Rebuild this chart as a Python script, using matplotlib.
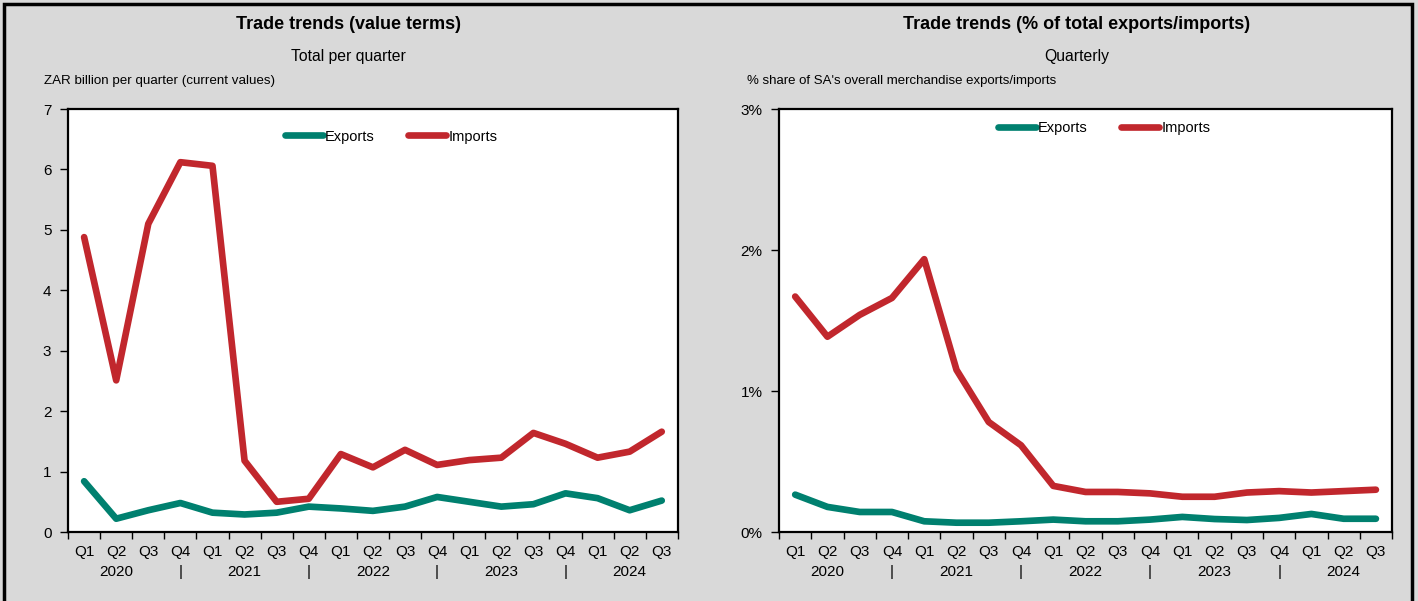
import matplotlib
matplotlib.use("Agg")
import matplotlib.pyplot as plt
from matplotlib.patches import Rectangle
from matplotlib.ticker import FuncFormatter, MultipleLocator

plt.rcParams["font.family"] = ["Liberation Sans Narrow", "Liberation Sans", "DejaVu Sans"]

quarters = ["Q1", "Q2", "Q3", "Q4"] * 4 + ["Q1", "Q2", "Q3"]
years = ["2020", "2021", "2022", "2023", "2024"]

# ZAR billion per quarter
exports_value = [0.84, 0.22, 0.36, 0.48, 0.32, 0.29, 0.32, 0.42, 0.39, 0.35,
                 0.42, 0.58, 0.50, 0.42, 0.46, 0.64, 0.56, 0.36, 0.52]
imports_value = [4.88, 2.51, 5.10, 6.12, 6.06, 1.18, 0.50, 0.55, 1.29, 1.07,
                 1.36, 1.11, 1.19, 1.23, 1.64, 1.46, 1.23, 1.33, 1.66]

# % share of SA's overall merchandise exports/imports
exports_share = [0.265, 0.178, 0.142, 0.142, 0.076, 0.066, 0.066, 0.076, 0.088, 0.076,
                 0.076, 0.088, 0.107, 0.092, 0.085, 0.100, 0.128, 0.094, 0.094]
imports_share = [1.67, 1.385, 1.54, 1.66, 1.935, 1.15, 0.78, 0.615, 0.327, 0.284,
                 0.284, 0.274, 0.250, 0.250, 0.280, 0.290, 0.280, 0.290, 0.300]

TEAL = "#00806f"
RED = "#c1272d"
BG = "#d9d9d9"


def x_labels():
    labels = []
    for i, q in enumerate(quarters):
        if q == "Q2":
            second = years[i // 4]
        elif q == "Q4":
            second = "|"
        else:
            second = ""
        labels.append(f"{q}\n{second}")
    return labels


def draw_panel(ax, exp, imp, ymax, fmt, legend_anchor):
    x = list(range(len(quarters)))
    ax.plot(x, exp, color=TEAL, lw=4.8, solid_capstyle="round",
            solid_joinstyle="round", label="Exports")
    ax.plot(x, imp, color=RED, lw=4.8, solid_capstyle="round",
            solid_joinstyle="round", label="Imports")
    ax.set_xlim(-0.5, len(quarters) - 0.5)
    ax.set_ylim(0, ymax)
    ax.set_facecolor("white")
    for s in ax.spines.values():
        s.set_linewidth(1.6)
        s.set_color("black")

    ax.set_xticks(x)
    ax.set_xticklabels(x_labels(), fontsize=11, linespacing=1.55)
    ax.tick_params(axis="x", which="major", length=0, pad=9)
    ax.set_xticks([i - 0.5 for i in range(len(quarters) + 1)], minor=True)
    ax.tick_params(axis="x", which="minor", length=5, width=1, direction="out")

    ax.yaxis.set_major_locator(MultipleLocator(1))
    ax.yaxis.set_major_formatter(FuncFormatter(fmt))
    ax.tick_params(axis="y", length=6, width=1, direction="out", labelsize=11, pad=6)

    leg = ax.legend(loc="center", bbox_to_anchor=legend_anchor, ncol=2, frameon=False,
                    fontsize=10.5, handlelength=2.6, handletextpad=0.15,
                    columnspacing=2.3)
    return leg


fig = plt.figure(figsize=(14.18, 6.01), dpi=100)
fig.patch.set_facecolor(BG)
fig.patches.append(Rectangle((0.0025, -0.05), 0.9935, 1.044, transform=fig.transFigure,
                             fill=False, edgecolor="black", linewidth=2.5))

ax1 = fig.add_axes([0.048, 0.1148, 0.430, 0.7038])
ax2 = fig.add_axes([0.5494, 0.1148, 0.4323, 0.7038])

draw_panel(ax1, exports_value, imports_value, 7, lambda v, p: f"{v:.0f}", (0.53, 0.935))
draw_panel(ax2, exports_share, imports_share, 3, lambda v, p: f"{v:.0f}%", (0.53, 0.955))

# titles and unit labels
fig.text(0.246, 0.96, "Trade trends (value terms)", ha="center", va="center",
         fontsize=13, fontweight="bold")
fig.text(0.246, 0.906, "Total per quarter", ha="center", va="center", fontsize=11.3)
fig.text(0.031, 0.866, "ZAR billion per quarter (current values)", ha="left", va="center",
         fontsize=9.6)

fig.text(0.7595, 0.96, "Trade trends (% of total exports/imports)", ha="center",
         va="center", fontsize=13, fontweight="bold")
fig.text(0.7595, 0.906, "Quarterly", ha="center", va="center", fontsize=11.3)
fig.text(0.527, 0.866, "% share of SA's overall merchandise exports/imports", ha="left",
         va="center", fontsize=9.5)

fig.savefig("out.png", dpi=100, facecolor=BG)
